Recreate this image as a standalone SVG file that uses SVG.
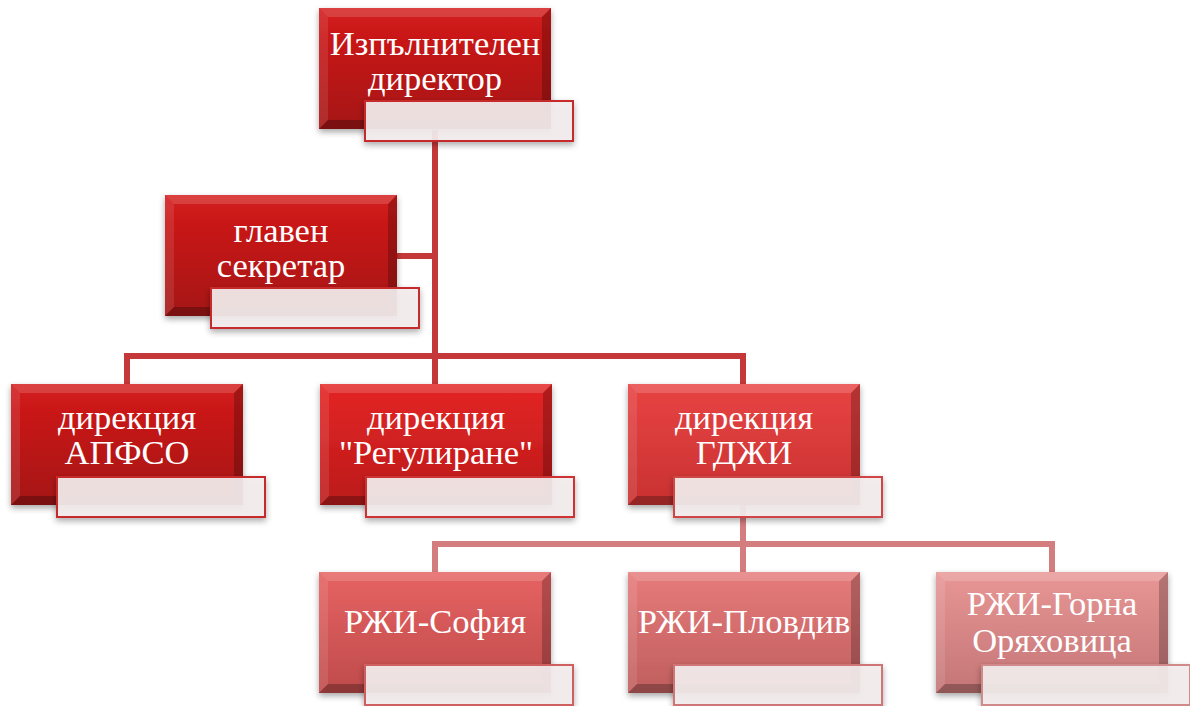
<svg xmlns="http://www.w3.org/2000/svg" width="1190" height="706" viewBox="0 0 1190 706">
<defs>
<linearGradient id="g1" x1="0" y1="0" x2="0" y2="1"><stop offset="0" stop-color="#d41b1b"/><stop offset="1" stop-color="#a51212"/></linearGradient>
<linearGradient id="g2" x1="0" y1="0" x2="0" y2="1"><stop offset="0" stop-color="#e42525"/><stop offset="1" stop-color="#bb1a1a"/></linearGradient>
<linearGradient id="g3" x1="0" y1="0" x2="0" y2="1"><stop offset="0" stop-color="#e84343"/><stop offset="1" stop-color="#c93131"/></linearGradient>
<linearGradient id="g4" x1="0" y1="0" x2="0" y2="1"><stop offset="0" stop-color="#e66262"/><stop offset="1" stop-color="#bf4b4b"/></linearGradient>
<linearGradient id="g5" x1="0" y1="0" x2="0" y2="1"><stop offset="0" stop-color="#e67b7b"/><stop offset="1" stop-color="#c05e5e"/></linearGradient>
<linearGradient id="g6" x1="0" y1="0" x2="0" y2="1"><stop offset="0" stop-color="#e89696"/><stop offset="1" stop-color="#c47575"/></linearGradient>
<filter id="sh" x="-10%" y="-10%" width="130%" height="140%"><feDropShadow dx="0" dy="3" stdDeviation="3" flood-color="#000" flood-opacity="0.35"/></filter>
<g id="bevel">
<polygon points="0,0 232,0 223,9 9,9" fill="#fff" fill-opacity="0.16"/>
<polygon points="0,0 9,9 9,112 0,121" fill="#fff" fill-opacity="0.1"/>
<polygon points="232,0 232,121 223,112 223,9" fill="#000" fill-opacity="0.22"/>
<polygon points="0,121 9,112 223,112 232,121" fill="#000" fill-opacity="0.26"/>
</g>
</defs>
<style>
.t{font-family:"Liberation Serif","Times New Roman",serif;font-size:34.5px;fill:#fff;text-anchor:middle}
.lb{fill:#f3eded;fill-opacity:0.92;stroke-width:2}
.c1{fill:none;stroke:#c5383a;stroke-width:6}
.c2{fill:none;stroke:#d47d7e;stroke-width:6}
</style>
<g id="connectors">
<path class="c1" d="M435 130 V384"/>
<path class="c1" d="M397 256 H435"/>
<path class="c1" d="M127 384 V356 H743 V384"/>
<path class="c2" d="M743 505 V572"/>
<path class="c2" d="M435 572 V544 H1052 V572"/>
</g>
<g id="n-director" transform="translate(319,8)">
<rect width="232" height="121" fill="url(#g1)" filter="url(#sh)"/><use href="#bevel"/>
<text class="t" x="116" y="47">Изпълнителен</text><text class="t" x="116" y="82">директор</text>
<rect class="lb" x="46" y="93" width="208" height="40" stroke="#c62a2a" filter="url(#sh)"/>
</g>
<g id="n-secretary" transform="translate(165,195)">
<rect width="232" height="121" fill="url(#g1)" filter="url(#sh)"/><use href="#bevel"/>
<text class="t" x="116" y="47">главен</text><text class="t" x="116" y="82">секретар</text>
<rect class="lb" x="46" y="93" width="208" height="40" stroke="#c62a2a" filter="url(#sh)"/>
</g>
<g id="n-apfso" transform="translate(11,384)">
<rect width="232" height="121" fill="url(#g1)" filter="url(#sh)"/><use href="#bevel"/>
<text class="t" x="116" y="45">дирекция</text><text class="t" x="116" y="80">АПФСО</text>
<rect class="lb" x="46" y="93" width="208" height="40" stroke="#c62a2a" filter="url(#sh)"/>
</g>
<g id="n-regulirane" transform="translate(320,384)">
<rect width="232" height="121" fill="url(#g2)" filter="url(#sh)"/><use href="#bevel"/>
<text class="t" x="116" y="45">дирекция</text><text class="t" x="116" y="80">"Регулиране"</text>
<rect class="lb" x="46" y="93" width="208" height="40" stroke="#cf3030" filter="url(#sh)"/>
</g>
<g id="n-gdzhi" transform="translate(628,384)">
<rect width="232" height="121" fill="url(#g3)" filter="url(#sh)"/><use href="#bevel"/>
<text class="t" x="116" y="45">дирекция</text><text class="t" x="116" y="80">ГДЖИ</text>
<rect class="lb" x="46" y="93" width="208" height="40" stroke="#d04444" filter="url(#sh)"/>
</g>
<g id="n-sofia" transform="translate(319,572)">
<rect width="232" height="121" fill="url(#g4)" filter="url(#sh)"/><use href="#bevel"/>
<text class="t" x="116" y="61">РЖИ-София</text>
<rect class="lb" x="46" y="93" width="208" height="40" stroke="#d06060" filter="url(#sh)"/>
</g>
<g id="n-plovdiv" transform="translate(628,572)">
<rect width="232" height="121" fill="url(#g5)" filter="url(#sh)"/><use href="#bevel"/>
<text class="t" x="116" y="61">РЖИ-Пловдив</text>
<rect class="lb" x="46" y="93" width="208" height="40" stroke="#d07474" filter="url(#sh)"/>
</g>
<g id="n-gorna" transform="translate(936,572)">
<rect width="232" height="121" fill="url(#g6)" filter="url(#sh)"/><use href="#bevel"/>
<text class="t" x="116" y="43">РЖИ-Горна</text><text class="t" x="116" y="80">Оряховица</text>
<rect class="lb" x="46" y="93" width="208" height="40" stroke="#d08a8a" filter="url(#sh)"/>
</g>
</svg>
